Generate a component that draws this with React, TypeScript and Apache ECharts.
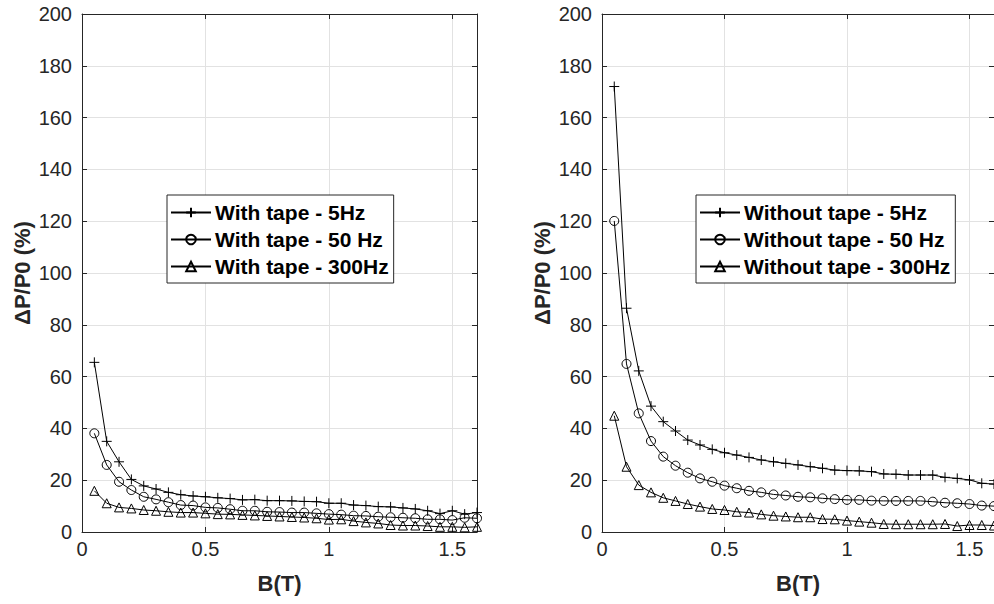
import React, { useEffect, useRef } from "react";
import * as echarts from "echarts";

const B = [0.05, 0.1, 0.15, 0.2, 0.25, 0.3, 0.35, 0.4, 0.45, 0.5, 0.55, 0.6, 0.65, 0.7, 0.75, 0.8, 0.85, 0.9, 0.95, 1.0, 1.05, 1.1, 1.15, 1.2, 1.25, 1.3, 1.35, 1.4, 1.45, 1.5, 1.55, 1.6];

const withTape5 = [65.5, 35, 27.1, 20.3, 17.8, 16.6, 15.3, 14.4, 13.9, 13.6, 13.2, 12.9, 12.4, 12.5, 12.1, 12.1, 12.0, 11.8, 11.7, 11.1, 11.1, 10.4, 10.2, 9.8, 9.7, 9.3, 8.9, 8.2, 7.1, 8.2, 6.9, 7.5];
const withTape50 = [38.1, 25.9, 19.4, 16.2, 13.6, 12.6, 11.5, 10.4, 10.2, 9.5, 9.3, 8.8, 8.2, 8.2, 7.8, 7.7, 7.5, 7.5, 7.2, 6.9, 6.7, 6.3, 6.2, 5.9, 5.7, 5.5, 5.3, 4.9, 4.9, 4.6, 5.5, 5.3];
const withTape300 = [15.9, 11.1, 9.5, 9.1, 8.5, 8.2, 7.8, 7.5, 7.5, 7.2, 6.9, 6.8, 6.6, 6.4, 6.2, 6.0, 5.8, 5.6, 5.3, 4.8, 4.9, 4.2, 3.7, 3.3, 2.7, 2.5, 2.5, 2.3, 2.0, 2.0, 1.8, 2.0];

const withoutTape5 = [172, 86.4, 62.2, 48.6, 42.6, 39.0, 35.5, 33.6, 31.9, 30.6, 29.7, 28.8, 27.8, 27.1, 26.5, 25.9, 25.2, 24.6, 23.9, 23.7, 23.6, 23.3, 22.4, 22.3, 22.0, 22.0, 22.0, 21.1, 20.7, 20.1, 18.8, 18.5];
const withoutTape50 = [120.1, 64.9, 45.8, 35.1, 29.1, 25.6, 22.9, 20.7, 19.4, 17.9, 16.9, 15.9, 15.3, 14.5, 14.1, 13.6, 13.4, 13.0, 12.7, 12.4, 12.4, 12.1, 12.0, 12.0, 12.0, 12.0, 11.7, 11.3, 11.1, 10.8, 10.2, 10.0];
const withoutTape300 = [44.9, 25.2, 18.1, 15.3, 13.2, 12.0, 10.8, 9.8, 8.9, 8.5, 7.8, 7.5, 6.8, 6.3, 6.0, 5.7, 5.7, 5.0, 4.9, 4.4, 4.0, 3.6, 3.1, 3.0, 3.0, 3.0, 3.0, 3.1, 2.3, 2.7, 2.7, 2.5];

const leftNames = ["With tape - 5Hz", "With tape - 50 Hz", "With tape - 300Hz"];
const rightNames = ["Without tape - 5Hz", "Without tape - 50 Hz", "Without tape - 300Hz"];

const xTicks = { min: 0, max: 1.6, interval: 0.5 };
const yTicks = { min: 0, max: 200, interval: 20 };

const PLUS = "path://M5,0L5,10M0,5L10,5";
const FONT = "'Liberation Sans', Arial, Helvetica, sans-serif";
const AX = "#262626";
const GRIDC = "#e2e2e2";

function pairs(ys: number[]) {
  return B.map((b, i) => [b, ys[i]]);
}

function makeSeries(name: string, ys: number[], idx: number, symbol: string, size: number) {
  return {
    type: "line",
    name,
    xAxisIndex: idx,
    yAxisIndex: idx,
    data: pairs(ys),
    symbol,
    symbolSize: size,
    showSymbol: true,
    clip: false,
    lineStyle: { color: "#000", width: 1 },
    itemStyle: { color: "rgba(0,0,0,0)", borderColor: "#000", borderWidth: 1 },
    emphasis: { disabled: true },
  };
}

function xAxis(gridIndex: number, position: string, main: boolean) {
  return {
    type: "value",
    gridIndex,
    position,
    ...xTicks,
    name: main ? "B(T)" : "",
    nameLocation: "middle",
    nameGap: 40,
    nameTextStyle: { fontFamily: FONT, fontSize: 22, fontWeight: "bold", color: AX },
    axisLine: { show: true, onZero: false, lineStyle: { color: AX, width: 1 } },
    axisTick: { show: true, inside: true, length: 5, lineStyle: { color: AX } },
    axisLabel: {
      show: main,
      showMaxLabel: false,
      margin: 7,
      fontFamily: FONT,
      fontSize: 20,
      color: AX,
      formatter: (v: number) => String(v),
    },
    splitLine: { show: main, lineStyle: { color: GRIDC, width: 1 } },
  };
}

function yAxis(gridIndex: number, position: string, main: boolean) {
  return {
    type: "value",
    gridIndex,
    position,
    ...yTicks,
    name: main ? "ΔP/P0 (%)" : "",
    nameLocation: "middle",
    nameGap: 49,
    nameTextStyle: { fontFamily: FONT, fontSize: 22, fontWeight: "bold", color: AX },
    axisLine: { show: true, onZero: false, lineStyle: { color: AX, width: 1 } },
    axisTick: { show: true, inside: true, length: 5, lineStyle: { color: AX } },
    axisLabel: { show: main, margin: 10, fontFamily: FONT, fontSize: 20, color: AX },
    splitLine: { show: main, lineStyle: { color: GRIDC, width: 1 } },
  };
}

function legend(names: string[], left: number, top: number) {
  return {
    orient: "vertical",
    left,
    top,
    data: names,
    itemWidth: 40,
    itemHeight: 12,
    itemGap: 6,
    padding: [7, 5, 6, 3],
    backgroundColor: "#fff",
    borderColor: "#262626",
    borderWidth: 1,
    borderRadius: 0,
    selectedMode: false,
    textStyle: { fontFamily: FONT, fontSize: 21, lineHeight: 21, fontWeight: "bold", color: "#000", padding: [0, 0, 0, -1] },
  };
}

export default function App() {
  const ref = useRef<HTMLDivElement>(null);
  useEffect(() => {
    if (!ref.current) return;
    const chart = echarts.init(ref.current, undefined, { renderer: "svg" });
    chart.setOption({
      animation: false,
      backgroundColor: "#fff",
      grid: [
        { left: 82, top: 14, width: 395, height: 518 },
        { left: 602, top: 14, width: 397, height: 518 },
      ],
      xAxis: [xAxis(0, "bottom", true), xAxis(1, "bottom", true), xAxis(0, "top", false), xAxis(1, "top", false)],
      yAxis: [yAxis(0, "left", true), yAxis(1, "left", true), yAxis(0, "right", false), yAxis(1, "right", false)],
      legend: [legend(leftNames, 167, 195), legend(rightNames, 696, 195)],
      series: [
        makeSeries(leftNames[0], withTape5, 0, PLUS, 10),
        makeSeries(leftNames[1], withTape50, 0, "circle", 9),
        makeSeries(leftNames[2], withTape300, 0, "triangle", 9),
        makeSeries(rightNames[0], withoutTape5, 1, PLUS, 10),
        makeSeries(rightNames[1], withoutTape50, 1, "circle", 9),
        makeSeries(rightNames[2], withoutTape300, 1, "triangle", 9),
      ],
    });
    return () => chart.dispose();
  }, []);
  return <div ref={ref} style={{ position: "fixed", left: 0, top: 0, width: 994, height: 604, background: "#fff" }} />;
}
